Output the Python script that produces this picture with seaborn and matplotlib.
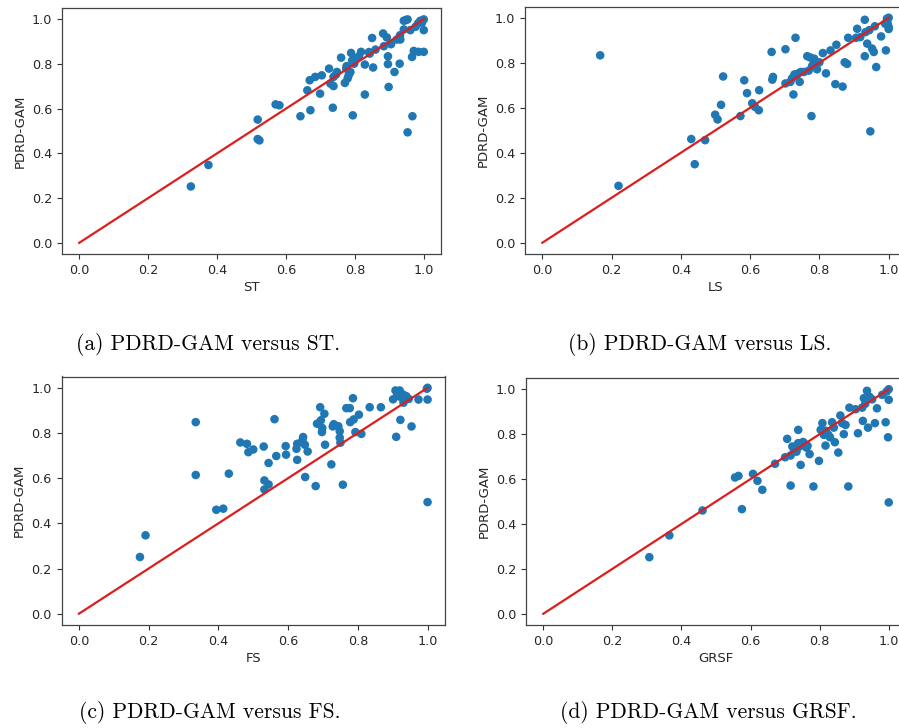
import matplotlib
matplotlib.use("Agg")
import matplotlib.pyplot as plt
import seaborn as sns
import pandas as pd

# ---------------- data ----------------
st_x = [0.324, 0.375, 0.518, 0.518, 0.523, 0.570, 0.581, 0.642, 0.662, 0.671, 0.669, 0.685,
        0.699, 0.704, 0.725, 0.729, 0.736, 0.738, 0.738, 0.748, 0.760, 0.771, 0.775, 0.782,
        0.787, 0.789, 0.794, 0.798, 0.802, 0.812, 0.818, 0.829, 0.829, 0.843, 0.850, 0.853,
        0.860, 0.882, 0.884, 0.893, 0.896, 0.896, 0.898, 0.905, 0.915, 0.922, 0.930, 0.932,
        0.942, 0.942, 0.953, 0.953, 0.961, 0.966, 0.967, 0.971, 0.976, 0.983, 0.985, 0.990,
        1.000, 1.000, 1.000, 0.776, 0.785, 0.841, 0.931, 0.948, 0.779, 0.792, 0.745, 0.995]
st_y = [0.252, 0.348, 0.551, 0.464, 0.458, 0.619, 0.615, 0.566, 0.682, 0.593, 0.727, 0.742,
        0.667, 0.749, 0.779, 0.712, 0.604, 0.701, 0.742, 0.764, 0.828, 0.715, 0.779, 0.749,
        0.764, 0.849, 0.570, 0.801, 0.824, 0.834, 0.854, 0.663, 0.797, 0.846, 0.916, 0.784,
        0.864, 0.936, 0.879, 0.918, 0.834, 0.799, 0.697, 0.888, 0.764, 0.909, 0.801, 0.909,
        0.993, 0.954, 0.999, 0.494, 0.951, 0.831, 0.566, 0.858, 0.966, 0.981, 0.854, 0.993,
        0.999, 0.951, 0.854, 0.790, 0.760, 0.853, 0.928, 0.996, 0.735, 0.815, 0.752, 0.985]

ls_x = [0.167, 0.220, 0.430, 0.440, 0.470, 0.499, 0.506, 0.516, 0.522, 0.572, 0.583, 0.591,
        0.606, 0.614, 0.625, 0.626, 0.662, 0.664, 0.666, 0.702, 0.702, 0.716, 0.721, 0.725,
        0.731, 0.734, 0.743, 0.746, 0.755, 0.765, 0.769, 0.774, 0.777, 0.779, 0.784, 0.789,
        0.793, 0.800, 0.810, 0.819, 0.832, 0.846, 0.849, 0.867, 0.873, 0.880, 0.883, 0.906,
        0.909, 0.918, 0.931, 0.931, 0.933, 0.938, 0.944, 0.952, 0.957, 0.960, 0.964, 0.978,
        0.990, 0.992, 0.995, 1.000, 1.000, 1.000, 0.947, 0.728, 0.738, 0.785, 0.997]
ls_y = [0.833, 0.253, 0.461, 0.349, 0.456, 0.569, 0.548, 0.613, 0.739, 0.563, 0.722, 0.665,
        0.620, 0.604, 0.589, 0.678, 0.848, 0.725, 0.737, 0.860, 0.708, 0.715, 0.731, 0.659,
        0.911, 0.742, 0.715, 0.759, 0.759, 0.829, 0.765, 0.823, 0.563, 0.786, 0.808, 0.793,
        0.771, 0.802, 0.843, 0.753, 0.855, 0.705, 0.880, 0.694, 0.802, 0.795, 0.911, 0.911,
        0.951, 0.914, 0.991, 0.829, 0.936, 0.885, 0.945, 0.863, 0.848, 0.962, 0.781, 0.917,
        0.973, 0.855, 0.996, 1.000, 0.959, 0.950, 0.495, 0.748, 0.752, 0.818, 0.975]

fs_x = [0.175, 0.191, 0.335, 0.335, 0.394, 0.414, 0.430, 0.463, 0.482, 0.486, 0.500, 0.530,
        0.532, 0.532, 0.544, 0.544, 0.561, 0.566, 0.593, 0.594, 0.624, 0.626, 0.626, 0.641,
        0.643, 0.648, 0.649, 0.656, 0.679, 0.683, 0.692, 0.694, 0.697, 0.698, 0.704, 0.706,
        0.724, 0.728, 0.731, 0.744, 0.748, 0.748, 0.750, 0.757, 0.767, 0.777, 0.778, 0.786,
        0.788, 0.793, 0.803, 0.810, 0.834, 0.866, 0.901, 0.908, 0.910, 0.912, 0.920, 0.922,
        0.926, 0.931, 0.939, 0.946, 0.954, 0.974, 0.998, 1.000, 1.000, 1.000, 0.915, 0.930]
fs_y = [0.251, 0.347, 0.848, 0.614, 0.460, 0.465, 0.620, 0.758, 0.752, 0.715, 0.727, 0.740,
        0.590, 0.550, 0.572, 0.667, 0.861, 0.698, 0.742, 0.704, 0.730, 0.681, 0.752, 0.767,
        0.782, 0.748, 0.605, 0.718, 0.565, 0.841, 0.914, 0.856, 0.804, 0.822, 0.885, 0.748,
        0.661, 0.829, 0.839, 0.830, 0.808, 0.779, 0.757, 0.571, 0.910, 0.910, 0.848, 0.954,
        0.860, 0.804, 0.881, 0.796, 0.914, 0.914, 0.949, 0.988, 0.783, 0.963, 0.988, 0.858,
        0.956, 0.934, 0.963, 0.951, 0.829, 0.948, 0.996, 1.000, 0.948, 0.494, 0.975, 0.970]

grsf_x = [0.307, 0.365, 0.461, 0.555, 0.565, 0.575, 0.607, 0.620, 0.634, 0.671, 0.700, 0.706,
          0.716, 0.716, 0.721, 0.726, 0.738, 0.738, 0.745, 0.748, 0.755, 0.762, 0.771, 0.782,
          0.798, 0.803, 0.808, 0.812, 0.817, 0.825, 0.830, 0.836, 0.841, 0.844, 0.854, 0.860,
          0.865, 0.870, 0.875, 0.883, 0.886, 0.904, 0.911, 0.923, 0.925, 0.928, 0.937, 0.940,
          0.944, 0.960, 0.966, 0.981, 0.991, 0.994, 0.998, 1.000, 1.000, 1.000,
          0.728, 0.742, 0.752, 0.765, 0.733, 0.818, 0.932, 0.952]
grsf_y = [0.252, 0.349, 0.460, 0.607, 0.614, 0.466, 0.623, 0.592, 0.552, 0.668, 0.697, 0.779,
          0.705, 0.571, 0.745, 0.730, 0.819, 0.760, 0.663, 0.752, 0.760, 0.740, 0.711, 0.567,
          0.681, 0.819, 0.849, 0.797, 0.749, 0.797, 0.786, 0.853, 0.829, 0.764, 0.718, 0.883,
          0.849, 0.800, 0.841, 0.567, 0.918, 0.911, 0.804, 0.918, 0.859, 0.960, 0.993, 0.829,
          0.967, 0.849, 0.915, 0.975, 0.853, 0.990, 0.786, 1.000, 0.953, 0.496,
          0.735, 0.745, 0.765, 0.748, 0.722, 0.815, 0.935, 0.955]

diag = [0.0, 1.0]
xlabels = ["ST", "LS", "FS", "GRSF"]
captions = ["(a) PDRD-GAM versus ST.", "(b) PDRD-GAM versus LS.",
            "(c) PDRD-GAM versus FS.", "(d) PDRD-GAM versus GRSF."]
ticks = [0.0, 0.2, 0.4, 0.6, 0.8, 1.0]
tick_labels = ["0.0", "0.2", "0.4", "0.6", "0.8", "1.0"]

# ---------------- figure ----------------
W, H = 899, 728
fig = plt.figure(figsize=(W / 100, H / 100), dpi=100)

# axes boxes in pixels: left, top, right, bottom
boxes = [(62, 8, 441, 254), (525, 6.5, 906, 254),
         (61.5, 376.5, 445, 625), (526, 378, 906, 625)]
series = [(st_x, st_y), (ls_x, ls_y), (fs_x, fs_y), (grsf_x, grsf_y)]
cap_pos = [(208, 345), (700, 345), (210, 712), (708, 712)]

txt = "#262626"
for (l, t, r, b), (xs, ys), xl in zip(boxes, series, xlabels):
    ax = fig.add_axes([l / W, 1 - b / H, (r - l) / W, (b - t) / H])
    df = pd.DataFrame({"x": xs, "y": ys})
    sns.scatterplot(data=df, x="x", y="y", ax=ax, color="#1f77b4", s=38,
                    linewidth=0, edgecolor="none", zorder=2)
    sns.lineplot(x=diag, y=diag, ax=ax, color="#dc1e1e", linewidth=1.6, zorder=3)
    ax.set_xlim(-0.05, 1.05)
    ax.set_ylim(-0.05, 1.05)
    ax.set_xticks(ticks)
    ax.set_xticklabels(tick_labels)
    ax.set_yticks(ticks)
    ax.set_yticklabels(tick_labels)
    ax.tick_params(labelsize=9.2, labelcolor=txt, color="#333333", length=3.5, width=0.8)
    ax.set_xlabel(xl, fontsize=9.5, color=txt, labelpad=3)
    ax.set_ylabel("PDRD-GAM", fontsize=9.5, color=txt, labelpad=4)
    for sp in ax.spines.values():
        sp.set_color("#444444")
        sp.set_linewidth(0.9)

for (cx, cy), cap in zip(cap_pos, captions):
    fig.text(cx / W, 1 - cy / H, cap, ha="center", va="center",
             fontsize=15.5, family="cmr10", color="black")

fig.savefig("out.png", dpi=100)
